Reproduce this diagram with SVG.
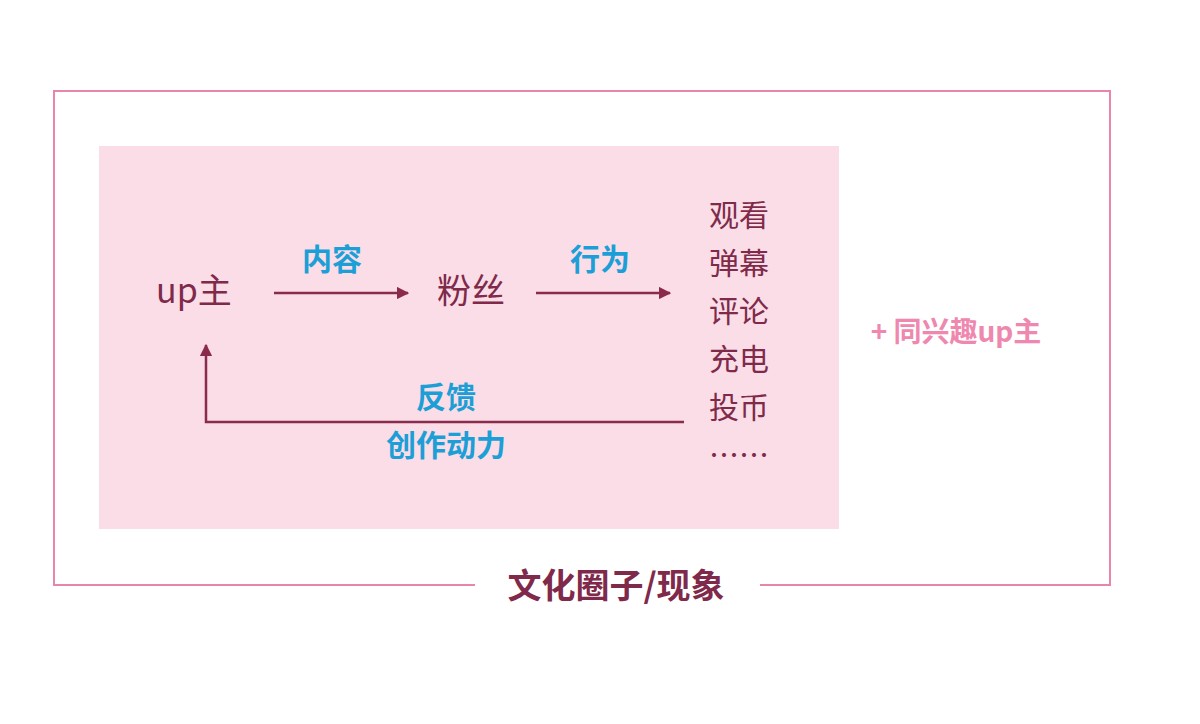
<svg xmlns="http://www.w3.org/2000/svg" width="1200" height="724" viewBox="0 0 1200 724">
<style>
.d{font-family:"Noto Sans CJK SC","Noto Sans",sans-serif;fill:#7f2a4b;font-size:34px}
.b{font-family:"Noto Sans CJK SC","Noto Sans",sans-serif;fill:#1b9fd6;font-size:30px;font-weight:bold;text-anchor:middle}
.l{font-family:"Noto Sans CJK SC","Noto Sans",sans-serif;fill:#7f2a4b;font-size:30px}
.c{stroke:#8a2b4e;stroke-width:2.5;fill:none}
</style>
<defs><marker id="a" viewBox="0 0 10 10" refX="9" refY="5" markerWidth="5" markerHeight="5" orient="auto" markerUnits="strokeWidth"><path d="M0,0L10,5L0,10z" fill="#8a2b4e"/></marker></defs>
<rect x="0" y="0" width="1200" height="724" fill="#fff"/>
<g id="outer"><path d="M475,585H54V91H1110V585H760" fill="none" stroke="#e985ad" stroke-width="2"/>
<text x="616" y="598" font-family="Noto Sans CJK SC,sans-serif" font-size="34" font-weight="bold" fill="#7f2a4b" text-anchor="middle">文化圈子/现象</text></g>
<g id="inner"><rect x="99" y="146" width="740" height="383" fill="#fadde6"/></g>
<g id="up"><text class="d" x="156" y="303">up主</text></g>
<g id="fans"><text class="d" x="437" y="303">粉丝</text></g>
<g id="actions" class="l">
<text x="709" y="226">观看</text><text x="709" y="274">弹幕</text><text x="709" y="322">评论</text><text x="709" y="370">充电</text><text x="709" y="418">投币</text><text x="709" y="466">……</text></g>
<g id="extra"><text x="956" y="342" font-family="Noto Sans CJK SC,sans-serif" font-size="28" font-weight="bold" fill="#ef88ae" text-anchor="middle">+ 同兴趣up主</text></g>
<g id="connectors">
<line class="c" x1="274" y1="293" x2="408" y2="293" marker-end="url(#a)"/>
<line class="c" x1="536" y1="293" x2="670" y2="293" marker-end="url(#a)"/>
<path class="c" d="M684,422H206V345" marker-end="url(#a)"/>
<text class="b" x="332" y="270">内容</text>
<text class="b" x="600" y="270">行为</text>
<text class="b" x="446" y="408">反馈</text>
<text class="b" x="446" y="456">创作动力</text>
</g>
</svg>
